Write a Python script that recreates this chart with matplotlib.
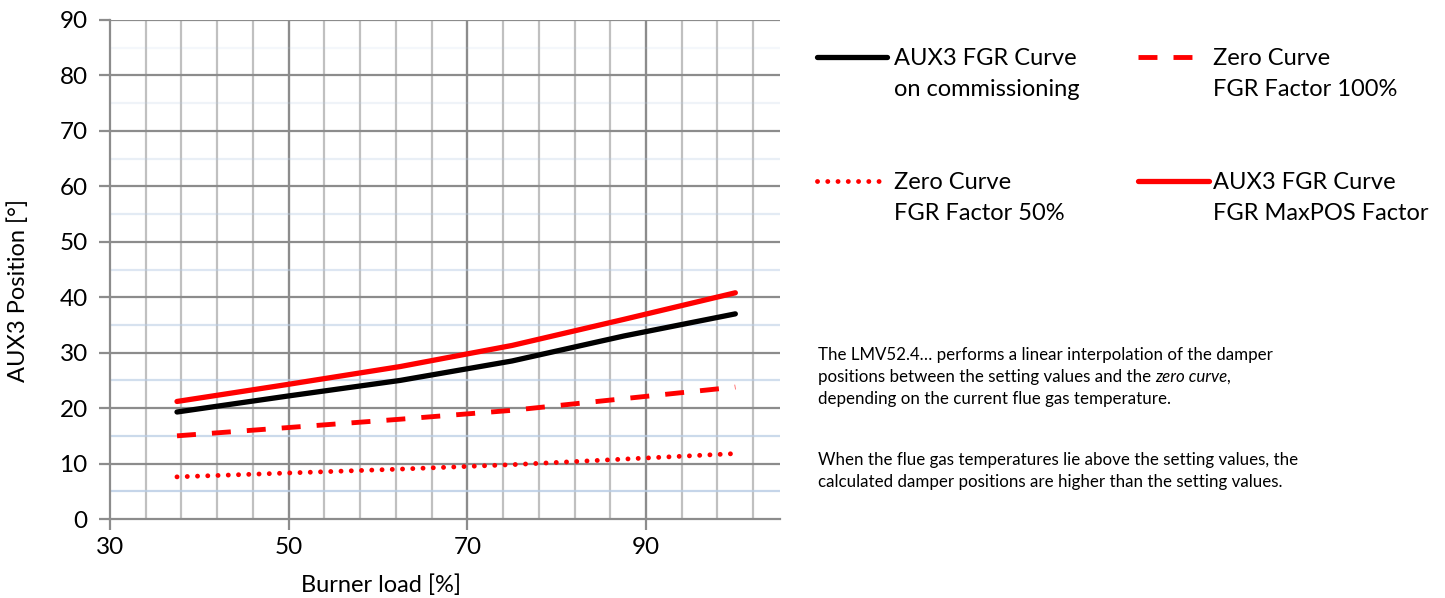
import matplotlib
matplotlib.use('Agg')
import matplotlib.pyplot as plt
from matplotlib.lines import Line2D

plt.rcParams['font.family'] = ['Lato', 'DejaVu Sans']

# burner load points [%]
load = [37.5, 50, 62.5, 75, 87.5, 100]

# AUX3 positions [deg]
aux3_commissioning = [19.3, 22.2, 25.0, 28.5, 33.0, 37.0]
zero_curve_100 = [15.0, 16.5, 18.0, 19.6, 21.7, 23.8]
zero_curve_50 = [7.6, 8.3, 9.0, 9.8, 10.8, 11.8]
aux3_maxpos = [21.2, 24.3, 27.5, 31.3, 36.0, 40.8]

x_ticks = [30, 50, 70, 90]
y_ticks = [0, 10, 20, 30, 40, 50, 60, 70, 80, 90]

W, H = 1445, 598
fig = plt.figure(figsize=(W / 100, H / 100), dpi=100)
ax = fig.add_axes([110 / W, 1 - 519 / H, (780 - 110) / W, (519 - 20) / H])
ax.set_xlim(30, 105)
ax.set_ylim(0, 90)

DASH = (0, (3.9, 3.3))
DOT = (0, (0.01, 2.1))

# grid: minor verticals every 4 units, darker at labelled ticks
for gx in range(34, 105, 4):
    ax.axvline(gx, color='#c0c0c0', lw=1.6, zorder=1)
for gx in x_ticks[1:]:
    ax.axvline(gx, color='#8c8c8c', lw=1.6, zorder=1)
# faint blue half-lines, fading towards the top
for gy in range(5, 90, 10):
    alpha = 0.85 - 0.75 * gy / 90
    ax.axhline(gy, color='#b8cce4', lw=1.6, alpha=alpha, zorder=1)
for gy in y_ticks[1:]:
    ax.axhline(gy, color='#8c8c8c', lw=1.6, zorder=1)

ax.plot(load, zero_curve_50, color='red', lw=3.5, linestyle=DOT,
        dash_capstyle='round', zorder=3)
ax.plot(load, zero_curve_100, color='red', lw=3.5, linestyle=DASH, zorder=3)
ax.plot(load, aux3_commissioning, color='black', lw=3.8, solid_capstyle='round', zorder=3)
ax.plot(load, aux3_maxpos, color='red', lw=3.8, solid_capstyle='round', zorder=3)

for side in ['top', 'right']:
    ax.spines[side].set_visible(False)
for side in ['left', 'bottom']:
    ax.spines[side].set_color('#8c8c8c')
    ax.spines[side].set_linewidth(1.6)

ax.set_xticks(x_ticks)
ax.set_yticks(y_ticks)
ax.tick_params(direction='out', length=8, width=1.6, color='#8c8c8c', labelsize=17.5)
ax.tick_params(axis='y', pad=8)
ax.tick_params(axis='x', pad=5)
ax.set_xlabel('Burner load [%]', fontsize=17, va='center')
ax.set_ylabel('AUX3 Position [°]', fontsize=17, va='center')
ax.xaxis.set_label_coords((381 - 110) / 670, (519 - 585) / 499)
ax.yaxis.set_label_coords((18 - 110) / 670, (519 - 290) / 499)

# legend drawn by hand so the sample sits on the first text line
def legend_item(x0, x1, y, tx, lines, **style):
    fig.add_artist(Line2D([x0 / W, x1 / W], [1 - y / H, 1 - y / H], **style))
    for i, txt in enumerate(lines):
        fig.text(tx / W, 1 - (y + 8 + 31 * i) / H, txt, fontsize=17,
                 va='baseline')

legend_item(817, 887, 57, 894, ['AUX3 FGR Curve', 'on commissioning'],
            color='black', lw=3.8, solid_capstyle='round')
legend_item(1138, 1193, 57, 1213, ['Zero Curve', 'FGR Factor 100%'],
            color='red', lw=3.5, linestyle=DASH)
legend_item(817, 882, 181, 894, ['Zero Curve', 'FGR Factor 50%'],
            color='red', lw=3.5, linestyle=DOT, dash_capstyle='round')
legend_item(1138, 1209, 181, 1213, ['AUX3 FGR Curve', 'FGR MaxPOS Factor'],
            color='red', lw=3.8, solid_capstyle='round')

# explanatory note
note_fs = 12.2
rend = fig.canvas.get_renderer()


def note_line(y, parts):
    x = 818
    for txt, style in parts:
        t = fig.text(x / W, 1 - y / H, txt, fontsize=note_fs, va='center', style=style)
        x += t.get_window_extent(renderer=rend).width - (2 if style == 'italic' else 0)


note_line(355, [('The LMV52.4… performs a linear interpolation of the damper', 'normal')])
note_line(377, [('positions between the setting values and the ', 'normal'),
                ('zero curve', 'italic'), (',', 'normal')])
note_line(399, [('depending on the current flue gas temperature.', 'normal')])
note_line(460, [('When the flue gas temperatures lie above the setting values, the', 'normal')])
note_line(482, [('calculated damper positions are higher than the setting values.', 'normal')])

fig.savefig('out.png', dpi=100)
